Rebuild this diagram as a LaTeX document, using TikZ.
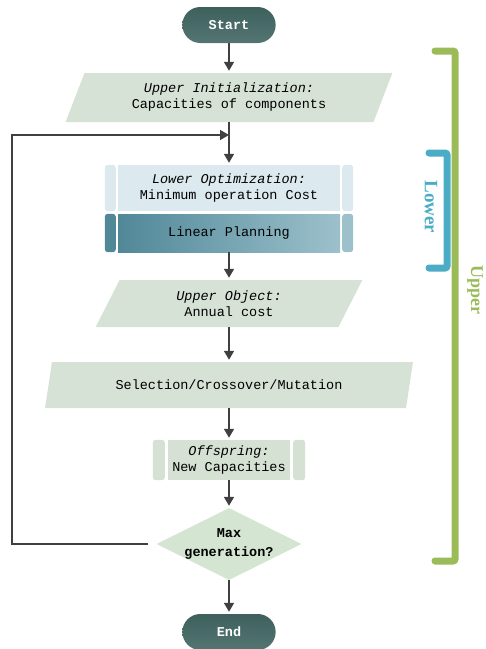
\documentclass[tikz,border=0pt]{standalone}
\usepackage{fontspec}
\setmainfont{Liberation Serif}
\setmonofont{Liberation Mono}
\usetikzlibrary{shapes.geometric,shapes.misc,arrows.meta}
\definecolor{termc}{HTML}{416663}
\definecolor{parac}{HTML}{D6E2D6}
\definecolor{lotopc}{HTML}{DCE9EE}
\definecolor{lobotc}{HTML}{5A97A9}
\definecolor{offc}{HTML}{D5E1D3}
\definecolor{decc}{HTML}{D4E5D1}
\definecolor{arrc}{HTML}{404040}
\definecolor{upc}{HTML}{9BBB59}
\definecolor{loc}{HTML}{4BACC6}
\begin{document}
\begin{tikzpicture}[x=1pt,y=-1pt,font=\ttfamily\fontsize{13.5}{16}\selectfont,
    flow/.style={draw=arrc,line width=1.6pt,shorten >=2pt,-{Stealth[length=9pt,width=10pt,inset=0pt]}},
    term/.style={rounded rectangle,top color=termc!95!black,bottom color=termc!90!white,text=white,font=\ttfamily\bfseries\fontsize{13.5}{16}\selectfont,minimum width=100pt,minimum height=36pt},
    para/.style={trapezium,trapezium left angle=66,trapezium right angle=114,trapezium stretches=true,fill=parac,inner sep=0pt,align=center},
    proc/.style={rectangle,inner sep=0pt,align=center},
    dec/.style={diamond,aspect=2,fill=decc,inner sep=-3pt,minimum width=145pt,minimum height=72pt,align=center,font=\ttfamily\bfseries\fontsize{13.5}{16}\selectfont}]

    \useasboundingbox (0,0) rectangle (486,649);

    \node[term] (start) at (229,25) {Start};
    \node[para,minimum width=328pt,minimum height=49pt] (init) at (229,97.5) {{\itshape Upper Initialization:}\\Capacities of components};
    \node[proc,fill=lotopc,minimum width=222pt,minimum height=46pt] (lotop) at (229,188) {{\itshape Lower Optimization:}\\Minimum operation Cost};
    \node[proc,left color=lobotc!90!black,right color=lobotc!60!white,minimum width=222pt,minimum height=38pt] (lobot) at (229,233) {Linear Planning};
    \node[para,minimum width=267pt,minimum height=47pt] (obj) at (229,303.5) {{\itshape Upper Object:}\\Annual cost};
    \node[para,minimum width=368pt,minimum height=46pt] (sel) at (229,385) {Selection/Crossover/Mutation};
    \node[proc,fill=offc,minimum width=122pt,minimum height=40pt] (off) at (229,460) {{\itshape Offspring:}\\New Capacities};
    \node[dec] (max) at (229,544) {Max\\[3pt]generation?};
    \node[term] (end) at (229,632) {End};

    \fill[lotopc,rounded corners=3pt] ([xshift=-13pt]lotop.north west) rectangle ([xshift=-2pt]lotop.south west);
    \fill[lotopc,rounded corners=3pt] ([xshift=2pt]lotop.north east) rectangle ([xshift=13pt]lotop.south east);
    \fill[lobotc!90!black,rounded corners=3pt] ([xshift=-13pt]lobot.north west) rectangle ([xshift=-2pt]lobot.south west);
    \fill[lobotc!60!white,rounded corners=3pt] ([xshift=2pt]lobot.north east) rectangle ([xshift=13pt]lobot.south east);
    \fill[offc,rounded corners=3pt] ([xshift=-15pt]off.north west) rectangle ([xshift=-3pt]off.south west);
    \fill[offc,rounded corners=3pt] ([xshift=3pt]off.north east) rectangle ([xshift=15pt]off.south east);

    \coordinate (join) at (229,135);
    \coordinate (back) at (12,135);

    \draw[flow] (start) -- (init);
    \draw[flow] (init) -- (lotop);
    \draw[flow] (lobot) -- (obj);
    \draw[flow] (obj) -- (sel);
    \draw[flow] (sel) -- (off);
    \draw[flow] (off) -- (max);
    \draw[flow] (max) -- (end);
    \draw[flow,shorten >=0pt] ([xshift=-8pt]max.west) -| (back) -- (join);

    \draw[upc,line width=7pt,line cap=round,rounded corners=2pt] (435,51) -- (455,51) -- (455,561) -- (435,561);
    \draw[loc,line width=7pt,line cap=round,rounded corners=2pt] (429,153) -- (447,153) -- (447,268) -- (429,268);
    \node[loc,rotate=-90,font=\rmfamily\bfseries\fontsize{19}{22}\selectfont] (lowlab) at (431,207) {Lower};
    \node[upc,rotate=-90,inner sep=1pt,font=\rmfamily\bfseries\fontsize{18}{21}\selectfont] (uplab) at (475,290) {Upper};
\end{tikzpicture}
\end{document}
